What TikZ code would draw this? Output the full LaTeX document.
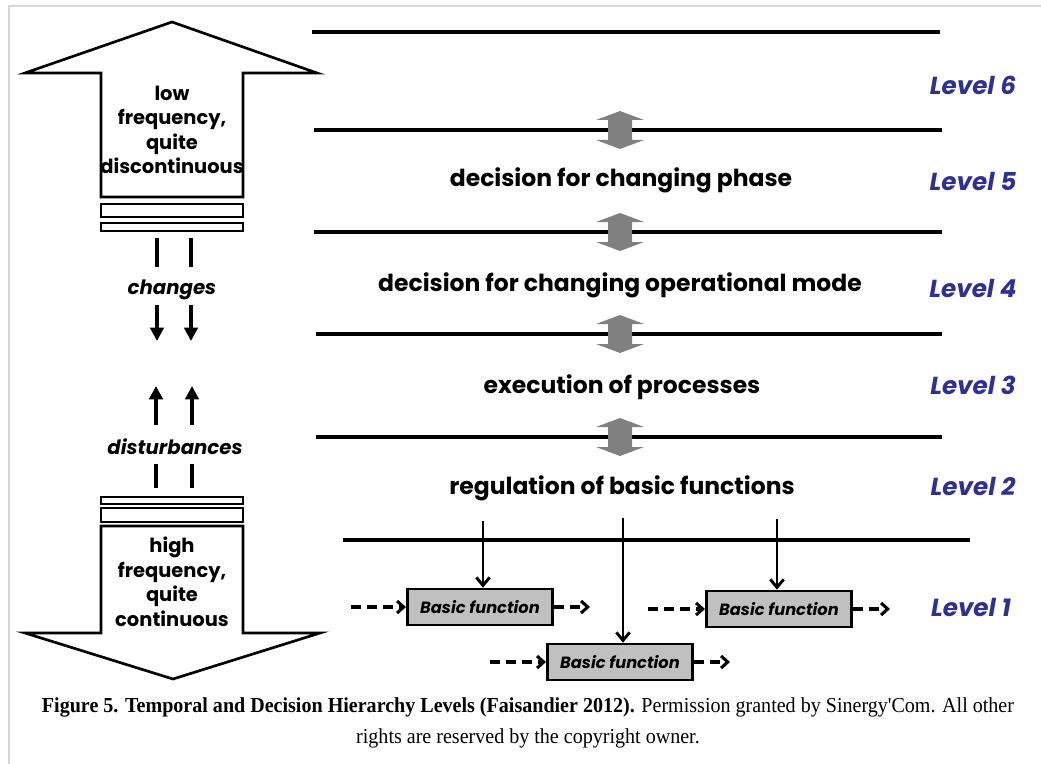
\documentclass[tikz,border=0pt]{standalone}
\usepackage{fontspec}
\setmainfont{Poppins}
\newfontfamily\capfont{Liberation Serif}[FakeStretch=0.94]
\usetikzlibrary{arrows.meta,positioning}
\definecolor{lvlblue}{RGB}{46,49,146}
\definecolor{updown}{RGB}{128,128,128}
\definecolor{bfgray}{RGB}{192,192,192}
\definecolor{framegray}{RGB}{215,215,215}

\begin{document}
\begin{tikzpicture}[x=.75pt,y=-.75pt,
    stage/.style={font=\bfseries\fontsize{17.6}{20}\selectfont},
    lvl/.style={text=lvlblue,font=\bfseries\itshape\fontsize{18.5}{20}\selectfont},
    freq/.style={align=center,font=\bfseries\fontsize{14.6}{18.4}\selectfont},
    flow/.style={font=\bfseries\itshape\fontsize{14.8}{17}\selectfont},
    basicbox/.style={draw,line width=2pt,fill=bfgray,minimum width=109pt,minimum height=27pt,inner sep=0pt,font=\bfseries\itshape\fontsize{12.2}{14}\selectfont},
    levelline/.style={line width=2.6pt},
    bigarrow/.style={line width=2pt,fill=white,line join=miter},
    strip/.style={line width=1.8pt,fill=white},
    tick/.style={line width=3pt},
    solidtip/.style={line width=3pt,-{Triangle[length=10pt,width=10pt]}},
    feed/.style={line width=2.2pt,-{Straight Barb[length=6pt,width=10pt,line width=2.2pt]}},
    pass/.style={line width=2.3pt,dash pattern=on 7.5pt off 4.5pt,-{Straight Barb[length=5pt,width=9pt,line width=2.3pt]}}]
    \useasboundingbox (0,0) rectangle (1041,763);
    \draw[framegray,line width=1pt] (9,770) -- (9,6) -- (1050,6); %frame
    % level lines
    \draw[levelline] (312,32) -- (940,32);
    \draw[levelline] (314,130) -- (942,130);
    \draw[levelline] (314,232) -- (942,232);
    \draw[levelline] (316,334) -- (942,334);
    \draw[levelline] (316,437) -- (942,437);
    \draw[levelline] (343,540) -- (970,540);
    % gray double arrows
    \fill[updown] (620,111) -- (644,120) -- (632,120) -- (632,140) -- (644,140) -- (620,149) -- (596,140) -- (608,140) -- (608,120) -- (596,120) -- cycle;
    \fill[updown] (620,213) -- (644,222) -- (632,222) -- (632,242) -- (644,242) -- (620,251) -- (596,242) -- (608,242) -- (608,222) -- (596,222) -- cycle;
    \fill[updown] (620,315) -- (644,324) -- (632,324) -- (632,344) -- (644,344) -- (620,353) -- (596,344) -- (608,344) -- (608,324) -- (596,324) -- cycle;
    \fill[updown] (620,418) -- (644,427) -- (632,427) -- (632,447) -- (644,447) -- (620,456) -- (596,447) -- (608,447) -- (608,427) -- (596,427) -- cycle;
    % stage texts
    \node[stage] (phase) at (621,180) {decision for changing phase};
    \node[stage] (mode) at (620,285) {decision for changing operational mode};
    \node[stage] (exec) at (622,387) {execution of processes};
    \node[stage] (regul) at (622,488) {regulation of basic functions};
    % levels
    \node[lvl] (lv6) at (973,85) {Level 6};
    \node[lvl] (lv5) at (973,181) {Level 5};
    \node[lvl] (lv4) at (973,288) {Level 4};
    \node[lvl] (lv3) at (973,385) {Level 3};
    \node[lvl] (lv2) at (973,486) {Level 2};
    \node[lvl] (lv1) at (971,607) {Level 1};
    % big arrow up
    \filldraw[bigarrow] (172,22) -- (317,73) -- (243,73) -- (243,197) -- (101,197) -- (101,73) -- (25,73) -- cycle;
    \node[freq] (low) at (172,130) {low\\frequency,\\quite\\discontinuous};
    \filldraw[strip] (101,204) rectangle (243,217);
    \filldraw[strip] (101,223) rectangle (243,231);
    % big arrow down
    \filldraw[strip] (101,497) rectangle (243,504);
    \filldraw[strip] (101,508) rectangle (243,522);
    \filldraw[bigarrow] (101,526) -- (243,526) -- (243,633) -- (320,633) -- (173,679) -- (25,633) -- (101,633) -- cycle;
    \node[freq] (high) at (172,582) {high\\frequency,\\quite\\continuous};
    % changes / disturbances
    \node[flow] (chg) at (172,290) {changes};
    \node[flow] (dist) at (175,447) {disturbances};
    \draw[tick] (157,238) -- (157,267);
    \draw[tick] (191,238) -- (191,267);
    \draw[solidtip] (157,305) -- (157,341);
    \draw[solidtip] (191,305) -- (191,341);
    \draw[solidtip] (156,425) -- (156,386);
    \draw[solidtip] (192,425) -- (192,386);
    \draw[tick] (156,464) -- (156,488);
    \draw[tick] (192,464) -- (192,488);
    % basic functions
    \node[basicbox] (bf1) at (480,607) {Basic function};
    \node[basicbox] (bf2) at (620,662) {Basic function};
    \node[basicbox] (bf3) at (779,609) {Basic function};
    \coordinate (f1) at (483,521);
    \coordinate (f2) at (623,518);
    \coordinate (f3) at (777,519);
    \draw[feed] (f1) -- (f1 |- bf1.north);
    \draw[feed] (f2) -- (f2 |- bf2.north);
    \draw[feed] (f3) -- (f3 |- bf3.north);
    \coordinate (in1) at (351,607);
    \coordinate (out1) at (590,607);
    \coordinate (in2) at (490,662);
    \coordinate (out2) at (730,662);
    \coordinate (in3) at (648,609);
    \coordinate (out3) at (890,609);
    \draw[pass] (in1) -- (bf1.west);
    \draw[pass] (bf1.east) -- (out1);
    \draw[pass] (in2) -- (bf2.west);
    \draw[pass] (bf2.east) -- (out2);
    \draw[pass] (in3) -- (bf3.west);
    \draw[pass] (bf3.east) -- (out3);
    % caption
    \node[font=\capfont\fontsize{16}{18}\selectfont] (capA) at (528,707) {\textbf{Figure 5. Temporal and Decision Hierarchy Levels (Faisandier 2012).} Permission granted by Sinergy'Com. All other};
    \node[font=\capfont\fontsize{16}{18}\selectfont] (capB) at (528,738) {rights are reserved by the copyright owner.};
\end{tikzpicture}
\end{document}
